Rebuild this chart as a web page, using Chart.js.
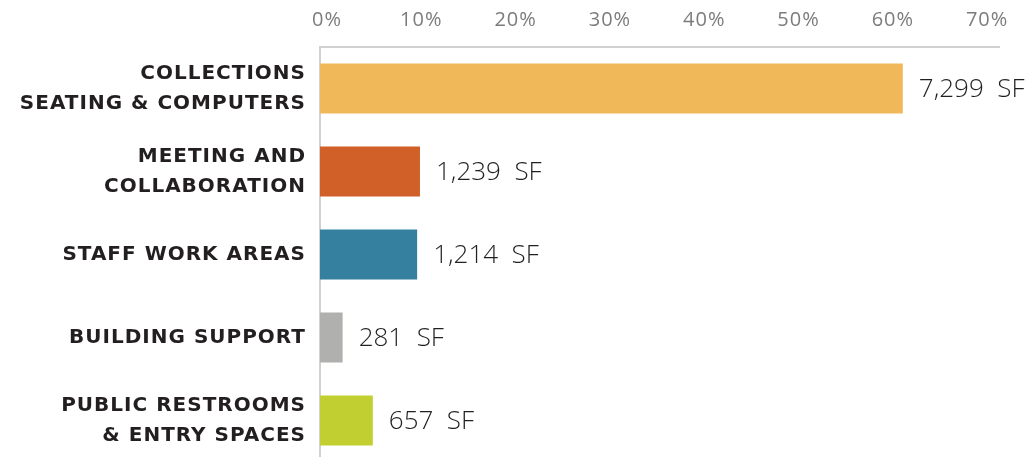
<!DOCTYPE html>
<html>
<head>
<meta charset="utf-8">
<script src="https://cdn.jsdelivr.net/npm/chart.js@4.4.1/dist/chart.umd.min.js"></script>
<style>
html,body{margin:0;padding:0;background:#fff;overflow:hidden;}
#wrap{width:1035px;height:462px;position:relative;}
</style>
</head>
<body>
<div id="wrap"><canvas id="c"></canvas></div>
<script>
const categories = [
  ["COLLECTIONS", "SEATING & COMPUTERS"],
  ["MEETING AND", "COLLABORATION"],
  ["STAFF WORK AREAS"],
  ["BUILDING SUPPORT"],
  ["PUBLIC RESTROOMS", "& ENTRY SPACES"]
];
const percentValues = [61.8, 10.6, 10.3, 2.4, 5.6];
const squareFeet = [7299, 1239, 1214, 281, 657];
const barColors = ["#F0B858", "#D05F28", "#35809F", "#B0B0AE", "#C2CF30"];
const tickValues = [0, 10, 20, 30, 40, 50, 60, 70];

const valueLabelPlugin = {
  id: 'valueLabels',
  beforeDraw(chart) {
    chart.ctx.letterSpacing = '1px';
  },
  afterDatasetsDraw(chart) {
    const ctx = chart.ctx;
    ctx.letterSpacing = '0px';
    const meta = chart.getDatasetMeta(0);
    ctx.save();
    ctx.font = '300 26px "Open Sans", "DejaVu Sans", sans-serif';
    ctx.fillStyle = '#231f20';
    ctx.textAlign = 'left';
    ctx.textBaseline = 'middle';
    meta.data.forEach((bar, i) => {
      ctx.fillText(squareFeet[i].toLocaleString('en-US') + '  SF', bar.x + 16, bar.y + 1);
    });
    ctx.restore();
  }
};

new Chart(document.getElementById('c'), {
  type: 'bar',
  data: {
    labels: categories,
    datasets: [{
      data: percentValues,
      backgroundColor: barColors,
      borderWidth: 0,
      barPercentage: 0.6,
      categoryPercentage: 1.0
    }]
  },
  options: {
    indexAxis: 'y',
    responsive: true,
    maintainAspectRatio: false,
    animation: false,
    events: [],
    layout: { padding: { top: 8, right: 36, left: 0, bottom: 0 } },
    plugins: { legend: { display: false }, tooltip: { enabled: false } },
    scales: {
      x: {
        position: 'top',
        min: 0,
        max: 72,
        z: 1,
        afterBuildTicks(scale) {
          scale.ticks = tickValues.map(v => ({ value: v }));
        },
        afterFit(scale) { scale.height = 39; scale.paddingLeft = 0; scale.paddingRight = 0; scale.paddingTop = 0; scale.paddingBottom = 0; },
        grid: { display: false, drawTicks: false },
        border: { display: true, color: '#d0d0d0', width: 2 },
        ticks: {
          padding: 15,
          labelOffset: 7,
          color: '#7c7c7c',
          font: { family: '"Open Sans", sans-serif', size: 20, weight: '400' },
          callback: v => v + '%'
        }
      },
      y: {
        afterFit(scale) { scale.width = 320; scale.paddingTop = 0; scale.paddingBottom = 0; },
        grid: { display: false, drawTicks: false },
        border: { display: true, color: '#d0d0d0', width: 2 },
        ticks: {
          padding: 14,
          color: '#231f20',
          font: { family: '"DejaVu Sans", sans-serif', size: 20, weight: 'bold', lineHeight: 1.5 }
        }
      }
    }
  },
  plugins: [valueLabelPlugin]
});
</script>
</body>
</html>
